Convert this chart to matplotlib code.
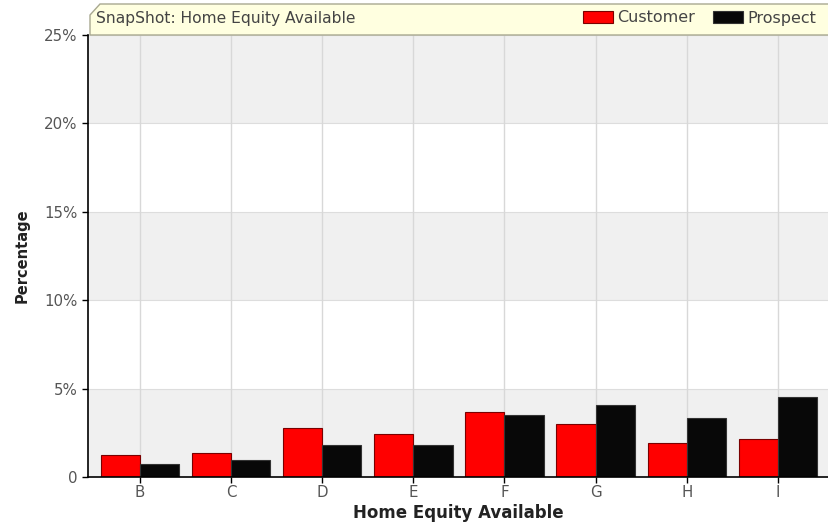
import matplotlib.pyplot as plt
import numpy as np
from matplotlib.patches import Polygon
from matplotlib.ticker import FuncFormatter

categories = ["B", "C", "D", "E", "F", "G", "H", "I"]
customer = [1.26, 1.37, 2.78, 2.44, 3.68, 2.98, 1.91, 2.16]
prospect = [0.73, 0.93, 1.80, 1.80, 3.53, 4.07, 3.34, 4.50]
y_ticks = [0, 5, 10, 15, 20, 25]

plt.rcParams['font.family'] = ['DejaVu Sans']

fig = plt.figure(figsize=(8.29, 5.27), dpi=100)
ax = fig.add_axes([0.106, 0.095, 0.894, 0.839])

x = np.arange(len(categories))
w = 0.43

# alternating bands
for i, lo in enumerate(y_ticks[:-1]):
    ax.axhspan(lo, lo + 5, color='#f0f0f0' if i % 2 == 0 else 'white', zorder=0, lw=0)
for yt in y_ticks[1:]:
    ax.axhline(yt, color='#dddddd', lw=0.8, zorder=0.5)
for xi in x:
    ax.axvline(xi, color='#d8d8d8', lw=1.0, zorder=0.5)

ax.bar(x - w / 2, customer, w, color='#ff0000', edgecolor='#7a0000', lw=0.8, zorder=2, label='Customer')
ax.bar(x + w / 2, prospect, w, color='#080808', edgecolor='#333333', lw=0.8, zorder=2, label='Prospect')

ax.set_xlim(-0.57, 7.56)
ax.set_ylim(0, 25)
ax.set_xticks(x)
ax.set_xticklabels(categories)
ax.set_yticks(y_ticks)
ax.yaxis.set_major_formatter(FuncFormatter(lambda v, p: "0" if v == 0 else f"{int(v)}%"))
ax.tick_params(labelcolor='#555555', labelsize=10.8, length=4, width=1, color='black')
ax.tick_params(axis='x', pad=2)
for s in ['top', 'right']:
    ax.spines[s].set_visible(False)
for s in ['left', 'bottom']:
    ax.spines[s].set_linewidth(1.2)

ax.set_xlabel("Home Equity Available", fontsize=12, fontweight='bold', color='#222222', labelpad=3)
ax.set_ylabel("Percentage", fontsize=10.5, fontweight='bold', color='#222222', labelpad=10)

# title banner
x0, x1 = 90 / 829, 1.0
y0, y1 = 1 - 35 / 527, 1 - 4 / 527
banner = Polygon([(x0, y0), (x0, 1 - 15 / 527), (100 / 829, y1), (x1, y1), (x1, y0)],
                 closed=True, transform=fig.transFigure, facecolor='#ffffe0',
                 edgecolor='#a8a890', lw=1, zorder=5)
fig.patches.append(banner)
fig.text(96 / 829, 1 - 19 / 527, "SnapShot: Home Equity Available", fontsize=11.2,
         color='#444444', va='center', ha='left', zorder=6)

leg = fig.legend(loc='center right', bbox_to_anchor=(1 - 10 / 829, 1 - 18 / 527), ncol=2,
                 frameon=False, fontsize=11.5, handlelength=1.9, handleheight=0.8,
                 columnspacing=1.1, handletextpad=0.25, borderaxespad=0.0, borderpad=0.2)
for t in leg.get_texts():
    t.set_color('#444444')

fig.savefig("out.png", dpi=100)
